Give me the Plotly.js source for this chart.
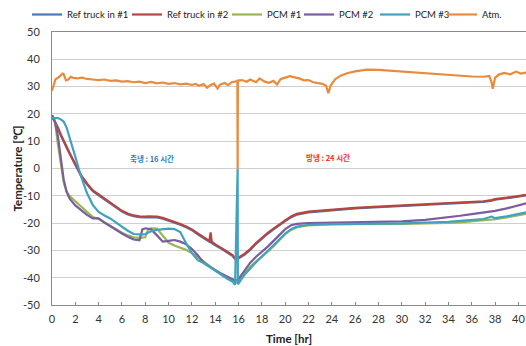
<!DOCTYPE html>
<html>
<head>
<meta charset="utf-8">
<script src="https://cdn.plot.ly/plotly-3.0.1.min.js"></script>
<style>html,body{margin:0;padding:0;background:#fff}#chart{width:526px;height:346px}</style>
</head>
<body>
<div id="chart"></div>
<script>
// ---- data ----
var seriesNames = ["Ref truck in #1", "Ref truck in #2", "PCM #1", "PCM #2", "PCM #3", "Atm."];

var tMain = [0,0.25,0.5,0.75,1,1.25,1.5,2,2.5,3,3.5,4,4.5,5,5.5,6,6.5,7,7.5,7.75,8,8.25,8.5,9,9.5,10,10.5,11,11.5,12,12.5,13,13.5,13.6,13.7,14,14.5,15,15.5,15.7,15.92,15.94,16.5,17,17.5,18,18.5,19,19.5,20,20.5,21,22,23,24,25,26,28,30,32,34,35,36,37,37.7,38,39,40,40.7];

var ref1 = [19.2,17.2,14.7,12.2,9.7,7.7,5.5,1.2,-2.8,-5.8,-8.3,-9.8,-11.3,-12.8,-14.3,-15.8,-16.8,-17.5,-17.8,-17.9,-17.9,-17.8,-17.8,-17.9,-18.4,-19.1,-19.8,-20.6,-21.5,-22.6,-24.1,-25.6,-26.8,-27.0,-27.2,-28.1,-29.3,-30.7,-32.1,-33.2,-33.0,-33.0,-31.6,-29.8,-27.6,-25.6,-23.9,-22.3,-20.7,-19.3,-17.9,-16.9,-16.1,-15.7,-15.2,-14.9,-14.6,-14.2,-13.8,-13.4,-13.0,-12.8,-12.5,-12.2,-11.8,-11.4,-10.9,-10.2,-9.8];
var ref2 = [19.5,17.5,15.0,12.5,10.0,8.0,5.8,1.5,-2.5,-5.5,-8.0,-9.5,-11.0,-12.5,-14.0,-15.5,-16.5,-17.2,-17.5,-17.6,-17.6,-17.5,-17.5,-17.6,-18.1,-18.8,-19.5,-20.3,-21.2,-22.3,-23.8,-25.3,-26.5,-23.4,-26.8,-27.8,-29.0,-30.4,-31.8,-33.0,-32.8,-32.8,-31.3,-29.5,-27.3,-25.3,-23.6,-22.0,-20.4,-19.0,-17.6,-16.6,-15.8,-15.4,-15.0,-14.7,-14.4,-14.0,-13.6,-13.2,-12.8,-12.6,-12.3,-12.0,-11.6,-11.2,-10.7,-10.0,-9.6];
var pcm1 = [19.5,17.5,9.0,1.0,-5.0,-8.5,-10.0,-12.0,-14.0,-16.0,-17.8,-18.5,-19.8,-21.0,-22.3,-23.5,-24.5,-25.2,-25.4,-25.4,-25.2,-22.3,-21.9,-22.0,-24.6,-27.2,-28.2,-29.0,-29.8,-31.0,-32.4,-34.0,-35.7,-36.0,-36.3,-37.2,-38.5,-39.8,-41.0,-41.8,-41.6,-41.6,-38.5,-36.0,-34.0,-32.4,-30.5,-28.5,-26.3,-24.0,-22.5,-21.5,-20.8,-20.5,-20.4,-20.4,-20.3,-20.3,-20.3,-20.2,-19.9,-19.7,-19.3,-19.0,-18.8,-18.6,-17.9,-17.1,-16.6];
var pcm2 = [19.5,17.0,12.0,4.0,-4.0,-8.5,-11.0,-13.5,-15.3,-17.0,-18.3,-18.3,-19.8,-21.2,-22.5,-23.8,-25.0,-26.0,-26.3,-22.3,-21.9,-22.0,-22.3,-24.5,-26.8,-26.5,-26.2,-26.8,-27.7,-29.5,-31.8,-34.5,-36.0,-36.2,-36.5,-37.3,-38.5,-39.5,-40.4,-41.0,-40.8,-40.8,-37.5,-34.5,-32.3,-30.5,-28.6,-26.5,-24.2,-22.2,-20.8,-20.3,-20.0,-19.9,-19.8,-19.8,-19.7,-19.6,-19.4,-18.8,-17.9,-17.3,-16.7,-16.1,-15.8,-15.5,-14.6,-13.5,-12.7];
var pcm3 = [18.5,18.6,18.5,18.0,17.2,15.0,11.7,4.3,-3.0,-9.0,-13.4,-15.9,-17.2,-18.3,-19.8,-21.4,-22.8,-24.0,-24.3,-24.2,-24.0,-23.5,-23.0,-22.5,-22.2,-22.0,-22.2,-23.3,-27.4,-31.0,-33.6,-34.6,-36.0,-36.3,-36.6,-37.6,-39.0,-40.3,-41.5,-42.6,0.0,-42.4,-39.0,-36.5,-34.3,-32.2,-30.2,-28.2,-26.0,-23.8,-22.2,-21.3,-20.7,-20.5,-20.4,-20.3,-20.3,-20.2,-20.1,-19.9,-19.5,-19.2,-18.9,-18.5,-17.6,-18.2,-17.5,-16.6,-16.0];

var tAtm = [0,0.1,0.3,0.6,0.9,1.0,1.2,1.4,1.6,1.8,2.2,2.6,3.0,3.5,4.0,4.5,5.0,5.5,6.0,6.5,7.0,7.5,8.0,8.5,9.0,9.5,10.0,10.5,11.0,11.5,12.0,12.3,12.6,13.0,13.3,13.6,13.9,14.2,14.4,14.8,15.1,15.4,15.7,15.9,15.92,15.94,16.3,16.7,17.0,17.5,17.8,18.2,18.6,19.0,19.3,19.6,20.0,20.4,20.8,21.2,21.6,22.0,22.4,22.8,23.2,23.5,23.7,23.9,24.3,24.8,25.3,26.0,27.0,28.0,29.0,30.0,31.0,32.0,33.0,34.0,35.0,36.0,37.0,37.5,37.7,37.8,38.0,38.3,38.8,39.3,39.8,40.2,40.7];
var atm = [28.5,30.0,32.7,33.5,34.8,34.6,32.3,32.6,33.6,33.2,33.0,33.3,32.8,32.6,32.4,32.6,32.1,32.3,31.8,32.0,31.6,31.8,31.3,31.7,31.2,31.5,31.0,31.3,30.8,31.1,30.6,31.0,30.3,30.9,29.6,30.6,31.1,29.3,30.7,31.3,30.5,31.6,31.8,32.0,0.0,32.2,32.4,31.8,32.6,31.6,33.0,31.9,31.4,32.1,30.8,32.7,33.3,33.8,33.4,33.0,32.3,32.4,31.6,31.4,31.0,30.3,27.6,30.4,32.8,34.1,34.9,35.6,36.2,36.1,35.8,35.5,35.2,35.0,34.6,34.2,33.9,33.7,33.6,33.9,31.5,29.2,33.2,34.4,35.0,34.5,35.5,34.8,35.2];

var xTicks = [0,2,4,6,8,10,12,14,16,18,20,22,24,26,28,30,32,34,36,38,40];
var yTicks = [-50,-40,-30,-20,-10,0,10,20,30,40,50];

var xTitle = "Time [hr]";
var yTitle = "Temperature [℃]";
var noteStore = "축냉 : 16 시간";
var noteRelease = "방냉 : 24 시간";

// ---- styles ----
var colors = ["#4a78b8", "#b8433f", "#96b852", "#7b5c9e", "#40a2c0", "#ea8b3c"];
var legendTextX = [67, 167, 267, 339, 415, 482];

var xs = [tMain, tMain, tMain, tMain, tMain, tAtm];
var ys = [ref1, ref2, pcm1, pcm2, pcm3, atm];
var legendIds = ["legend", "legend2", "legend3", "legend4", "legend5", "legend6"];

var L = 52, W = 526, H = 346, T = 32, B = 41;
var plotW = W - L, plotH = H - T - B;

var traces = ys.map(function (y, i) {
  return {
    x: xs[i], y: y, type: "scatter", mode: "lines", name: seriesNames[i],
    legend: legendIds[i],
    line: {color: colors[i], width: 2.2}
  };
});

var layout = {
  width: W, height: H,
  margin: {l: L, r: 0, t: T, b: B, pad: 0},
  paper_bgcolor: "#fff", plot_bgcolor: "#fff",
  font: {family: "Lato, 'Liberation Sans', sans-serif", size: 11, color: "#3a3a3a"},
  showlegend: true,
  xaxis: {
    range: [0, 40.65], tickvals: xTicks, ticktext: xTicks.map(String),
    showgrid: false, zeroline: false,
    showline: true, linecolor: "#8a8a8a", linewidth: 1, mirror: true,
    ticks: "inside", ticklen: 3, tickcolor: "#8a8a8a", ticklabelstandoff: 4,
    tickfont: {size: 11, color: "#333"},
    automargin: false
  },
  yaxis: {
    range: [-50, 50], tickvals: yTicks, ticktext: yTicks.map(String),
    showgrid: true, gridcolor: "#cfcfcf", gridwidth: 1, zeroline: false,
    showline: true, linecolor: "#8a8a8a", linewidth: 1,
    ticks: "", ticklabelstandoff: 9,
    tickfont: {size: 11, color: "#333"},
    automargin: false
  },
  annotations: [
    {x: (17 - L) / plotW, y: 0.5, xref: "paper", yref: "paper", text: "<b>" + yTitle + "</b>",
     textangle: -90, showarrow: false, xanchor: "center", yanchor: "middle",
     font: {size: 11.5, color: "#222"}},
    {x: 0.5, y: -(338 - (T + plotH)) / plotH, xref: "paper", yref: "paper", text: "<b>" + xTitle + "</b>",
     showarrow: false, xanchor: "center", yanchor: "middle",
     font: {size: 11.5, color: "#222"}},
    {x: 8.6, y: 3.6, xref: "x", yref: "y", text: "<b>" + noteStore + "</b>", showarrow: false,
     font: {family: "'Noto Sans CJK KR', sans-serif", size: 7.5, color: "#2d7fc0"}},
    {x: 23.7, y: 4.0, xref: "x", yref: "y", text: "<b>" + noteRelease + "</b>", showarrow: false,
     font: {family: "'Noto Sans CJK KR', sans-serif", size: 7.5, color: "#ff2b2b"}}
  ]
};

legendIds.forEach(function (id, i) {
  layout[id] = {
    orientation: "h", x: (legendTextX[i] - 40 - L) / plotW, xanchor: "left",
    y: 1 + (T - 14) / plotH, yanchor: "middle",
    bgcolor: "rgba(0,0,0,0)", borderwidth: 0,
    font: {size: 9.5, color: "#222"}, itemwidth: 30
  };
});

Plotly.newPlot("chart", traces, layout, {staticPlot: true, displayModeBar: false});
</script>
</body>
</html>
